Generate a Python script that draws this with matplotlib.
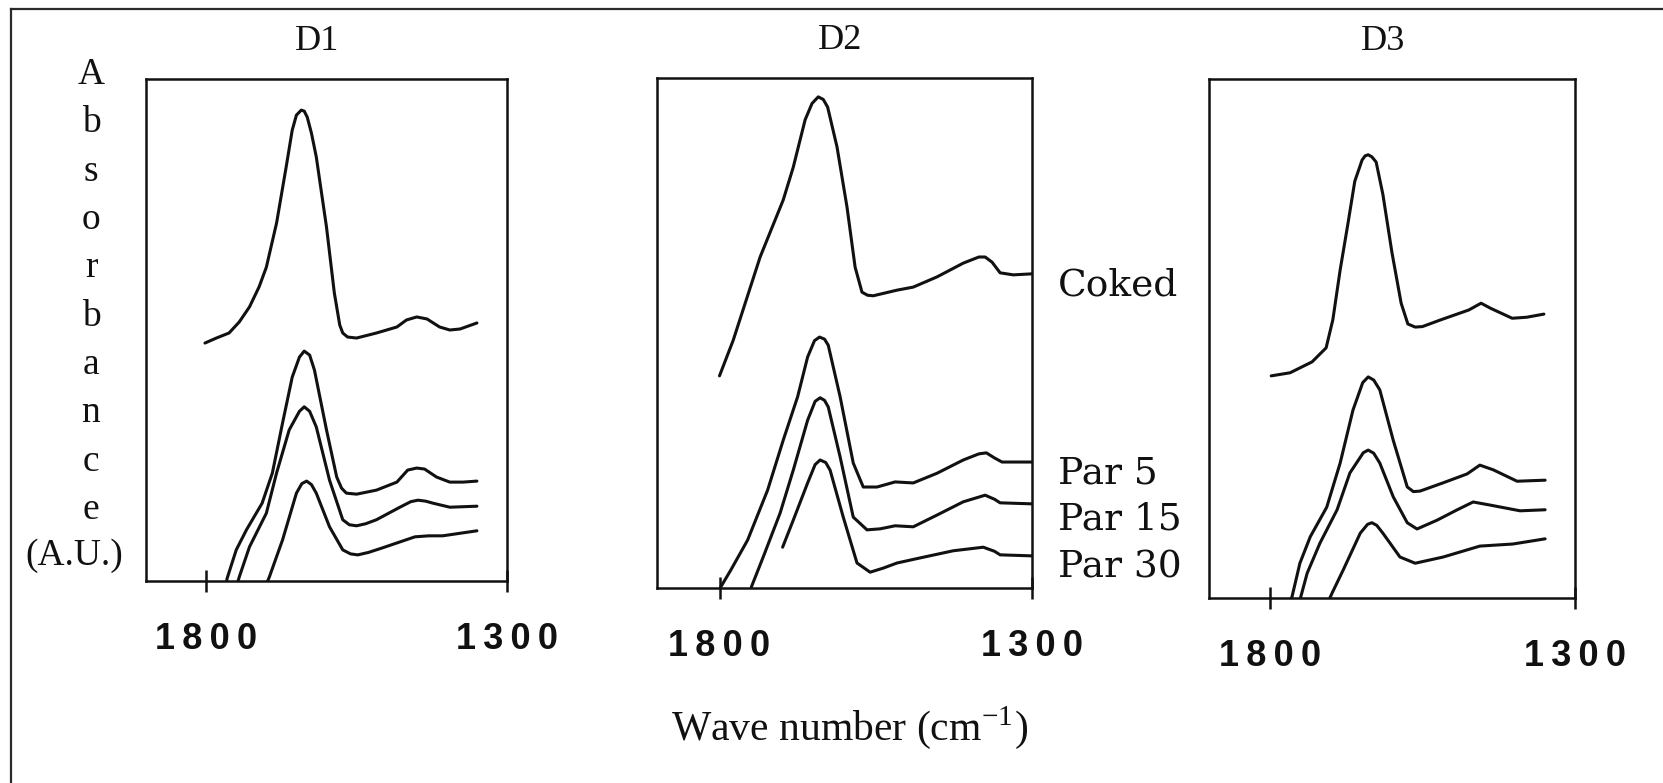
import matplotlib.pyplot as plt
from matplotlib.lines import Line2D

plt.rcParams['mathtext.fontset'] = 'stix'

# Panel names, tick marks and curve names
panels = ['D1', 'D2', 'D3']
tick_pos = [1800, 1300]
tick_text = ['1\u20098\u20090\u20090', '1\u20093\u20090\u20090']
sample_names = ['Coked', 'Par 5', 'Par 15', 'Par 30']
ylabel_letters = ['A', 'b', 's', 'o', 'r', 'b', 'a', 'n', 'c', 'e', '(A.U.)']

# D1 spectra (wave number cm-1, absorbance A.U.)
d1_coked_wn = [1802, 1783, 1762, 1745, 1728, 1712, 1700, 1683, 1667, 1657,
               1650, 1642, 1637, 1632, 1625, 1617, 1600, 1587, 1578, 1573,
               1565, 1550, 1517, 1483, 1467, 1450, 1433, 1412, 1395, 1378, 1350]
d1_coked_ab = [47.4, 48.4, 49.4, 51.6, 54.6, 58.6, 62.5, 71.3, 82.5, 89.8,
               92.8, 93.8, 93.6, 92.4, 89.2, 84.5, 70.5, 57.4, 51.0, 49.4,
               48.6, 48.4, 49.4, 50.6, 52.0, 52.6, 52.2, 50.6, 50.0, 50.2, 51.4]
d1_par5_wn = [1768, 1765, 1750, 1733, 1707, 1690, 1673, 1657, 1645, 1637, 1628,
              1620, 1600, 1583, 1575, 1567, 1550, 1517, 1483, 1465, 1450, 1437,
              1417, 1395, 1373, 1350]
d1_par5_ab = [-1.2, 0.6, 6.2, 10.2, 15.5, 21.5, 31.5, 40.6, 44.6, 45.8, 45.0,
              42.0, 30.1, 20.7, 18.5, 17.5, 17.3, 18.1, 19.7, 22.1, 22.5, 22.3,
              20.7, 19.7, 19.7, 19.9]
d1_par15_wn = [1750, 1745, 1728, 1700, 1683, 1662, 1645, 1637, 1628, 1617, 1595,
               1573, 1562, 1550, 1535, 1517, 1478, 1460, 1448, 1435, 1423, 1395, 1350]
d1_par15_ab = [-1.2, 0.8, 6.8, 13.5, 21.5, 30.1, 33.8, 34.7, 33.8, 30.7, 20.1,
               12.2, 11.2, 11.0, 11.4, 12.2, 14.7, 15.8, 16.1, 15.9, 15.5, 14.7, 14.9]
d1_par30_wn = [1702, 1695, 1673, 1650, 1641, 1633, 1625, 1617, 1595, 1573, 1560,
               1548, 1530, 1507, 1453, 1430, 1407, 1350]
d1_par30_ab = [-1.2, 0.8, 8.2, 17.5, 19.4, 19.9, 19.2, 17.5, 10.8, 6.2, 5.4,
               5.2, 5.7, 6.6, 8.8, 9.0, 9.0, 10.0]

# D2 spectra
d2_coked_wn = [1800, 1778, 1735, 1698, 1682, 1663, 1652, 1642, 1634, 1627, 1612,
               1596, 1583, 1572, 1563, 1554, 1516, 1490, 1452, 1410, 1385, 1375,
               1364, 1351, 1330, 1300]
d2_coked_ab = [41.6, 48.6, 64.9, 76.1, 82.5, 91.8, 95.0, 96.3, 95.8, 94.3, 86.5,
               74.7, 62.9, 58.0, 57.4, 57.3, 58.4, 59.0, 61.0, 63.7, 64.9, 64.9,
               63.9, 61.8, 61.4, 61.6]
d2_par5_wn = [1798, 1782, 1755, 1723, 1698, 1675, 1659, 1648, 1640, 1632, 1626,
              1607, 1586, 1570, 1548, 1519, 1490, 1452, 1410, 1385, 1373, 1360,
              1348, 1300]
d2_par5_ab = [0.2, 3.5, 9.4, 19.2, 29.0, 37.5, 45.3, 48.5, 49.2, 48.8, 47.6,
              37.5, 24.5, 19.8, 19.8, 20.8, 20.6, 22.5, 25.1, 26.3, 26.5, 25.5,
              24.7, 24.7]
d2_par15_wn = [1749, 1730, 1703, 1682, 1659, 1647, 1639, 1632, 1626, 1607, 1586,
               1564, 1543, 1519, 1490, 1452, 1410, 1375, 1360, 1351, 1300]
d2_par15_ab = [0.2, 6.1, 14.7, 23.1, 32.9, 36.6, 37.3, 36.8, 35.5, 25.7, 13.9,
               11.4, 11.6, 12.2, 12.0, 14.3, 16.9, 18.2, 17.4, 16.7, 16.5]
d2_par30_wn = [1699, 1682, 1659, 1647, 1639, 1630, 1623, 1602, 1580, 1559, 1538,
               1516, 1479, 1426, 1378, 1360, 1351, 1300]
d2_par30_ab = [8.0, 13.3, 20.6, 24.2, 25.1, 24.6, 23.1, 13.9, 4.9, 3.1, 3.9,
               4.9, 5.9, 7.3, 8.0, 7.2, 6.5, 6.3]

# D3 spectra
d3_coked_wn = [1798, 1767, 1731, 1708, 1697, 1685, 1672, 1661, 1649, 1644, 1639,
               1633, 1626, 1615, 1600, 1585, 1574, 1562, 1550, 1520, 1474, 1454,
               1438, 1403, 1379, 1351]
d3_coked_ab = [42.8, 43.4, 45.5, 48.2, 53.6, 63.2, 72.3, 80.3, 84.4, 85.2, 85.4,
               85.0, 84.0, 77.8, 66.5, 56.8, 52.8, 52.2, 52.3, 53.6, 55.5, 56.8,
               55.8, 53.9, 54.1, 54.7]
d3_par5_wn = [1769, 1764, 1751, 1734, 1707, 1685, 1664, 1648, 1639, 1630, 1620,
              1598, 1575, 1565, 1554, 1516, 1477, 1456, 1434, 1395, 1349]
d3_par5_ab = [-1.0, 0.2, 6.7, 11.8, 17.5, 26.0, 36.2, 41.5, 42.6, 42.0, 40.1,
              30.4, 21.4, 20.5, 20.6, 22.2, 23.9, 25.6, 24.7, 22.5, 22.7]
d3_par15_wn = [1751, 1739, 1718, 1690, 1669, 1647, 1639, 1630, 1620, 1598, 1575,
               1559, 1526, 1493, 1467, 1439, 1390, 1349]
d3_par15_ab = [-0.4, 4.8, 10.6, 17.0, 24.1, 28.0, 28.5, 27.9, 26.0, 19.5, 14.5,
               13.3, 15.0, 17.0, 18.5, 17.9, 16.8, 17.0]
d3_par30_wn = [1705, 1698, 1680, 1652, 1640, 1633, 1625, 1615, 1587, 1562, 1516,
               1456, 1402, 1349]
d3_par30_ab = [-0.8, 1.0, 5.4, 12.5, 14.2, 14.5, 14.0, 12.5, 7.9, 6.7, 7.9,
               10.0, 10.4, 11.4]

series = {
    'D1': [(d1_coked_wn, d1_coked_ab), (d1_par5_wn, d1_par5_ab),
           (d1_par15_wn, d1_par15_ab), (d1_par30_wn, d1_par30_ab)],
    'D2': [(d2_coked_wn, d2_coked_ab), (d2_par5_wn, d2_par5_ab),
           (d2_par15_wn, d2_par15_ab), (d2_par30_wn, d2_par30_ab)],
    'D3': [(d3_coked_wn, d3_coked_ab), (d3_par5_wn, d3_par5_ab),
           (d3_par15_wn, d3_par15_ab), (d3_par30_wn, d3_par30_ab)],
}

W, H = 1663, 783
fig = plt.figure(figsize=(W / 100, H / 100), dpi=100)

# frame lines on the left and top of the figure
fig.add_artist(Line2D([10.5 / W, 10.5 / W], [0, 1 - 9 / H], transform=fig.transFigure,
                      color='#2a2a2a', lw=1.6))
fig.add_artist(Line2D([10.5 / W, 1], [1 - 9 / H, 1 - 9 / H], transform=fig.transFigure,
                      color='#2a2a2a', lw=1.6))

# axes boxes in pixels: left, right, top, bottom
boxes = {'D1': (146, 507, 79, 581), 'D2': (657, 1032, 78, 588), 'D3': (1209, 1575, 79, 598)}
title_x = {'D1': 0.473, 'D2': 0.488, 'D3': 0.476}

for name in panels:
    l, r, t, b = boxes[name]
    ax = fig.add_axes([l / W, 1 - b / H, (r - l) / W, (b - t) / H])
    for wn, ab in series[name]:
        ax.plot(wn, ab, color='#111111', lw=2.2, solid_joinstyle='round',
                solid_capstyle='round')
    ax.set_xlim(1900, 1300)
    ax.set_ylim(0, 100)
    ax.set_yticks([])
    ax.set_xticks(tick_pos, tick_text)
    ax.tick_params(axis='x', direction='inout', length=16.5, width=1.8, pad=21,
                   labelsize=26, color='#111111')
    for lbl in ax.get_xticklabels():
        lbl.set_fontweight('bold')
        lbl.set_family(['Liberation Sans', 'DejaVu Sans'])
        lbl.set_color('#111111')
    for sp in ax.spines.values():
        sp.set_linewidth(1.8)
        sp.set_color('#111111')
    ax.set_title(name, x=title_x[name], pad=21, fontsize=26,
                 family='Liberation Serif', color='#111111')

# sample names right of the middle panel
name_base = [295, 484, 530, 577]
for txt, yb in zip(sample_names, name_base):
    fig.text(1058 / W, 1 - yb / H, txt, fontsize=27, family='DejaVu Serif',
             color='#111111', va='baseline', ha='left')

# vertical y label, one letter per line
letter_base = [84, 132, 181, 229, 277, 326, 374, 422, 471, 519, 565]
for txt, yb in zip(ylabel_letters, letter_base):
    xc = 74 if txt == '(A.U.)' else 91
    fig.text(xc / W, 1 - yb / H, txt, fontsize=27, family='Liberation Serif',
             color='#111111', va='baseline', ha='center')

fig.text(850 / W, 1 - 740 / H, r'Wave number (cm$^{\mathregular{-1}}$)', fontsize=30,
         family='Liberation Serif', color='#111111', va='baseline', ha='center')

fig.savefig('out.png', dpi=100)
